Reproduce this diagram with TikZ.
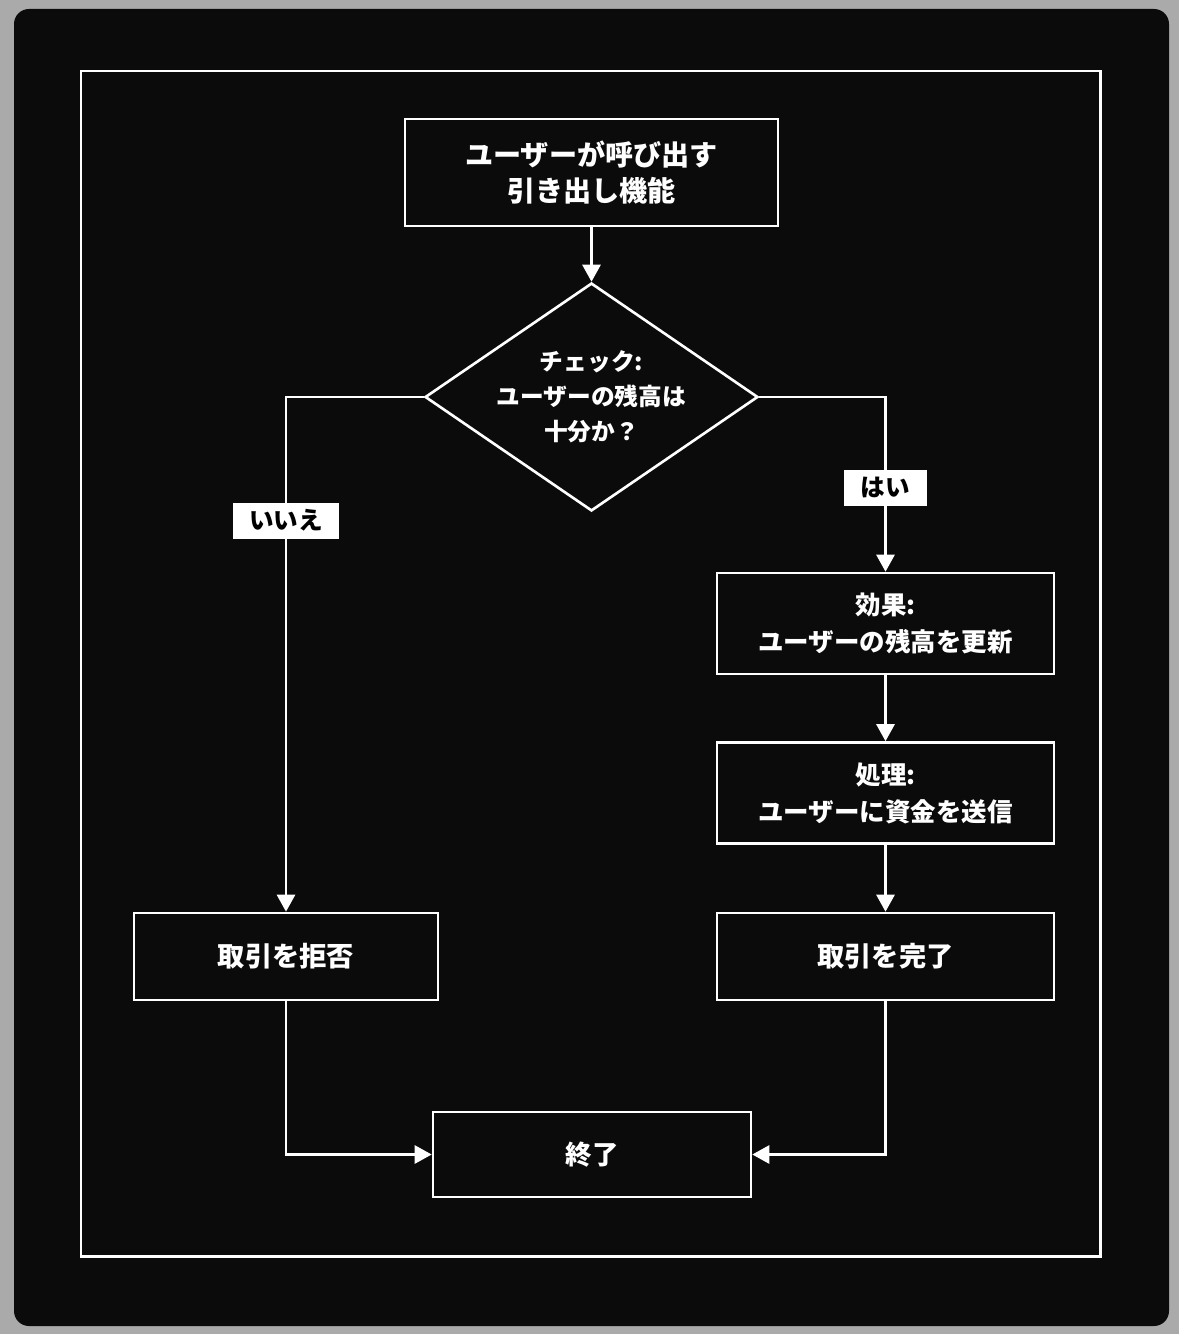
\documentclass[tikz,border=0pt]{standalone}
\usepackage{fontspec}
\setmainfont{Noto Sans CJK JP}
\definecolor{bgblack}{RGB}{11,11,11}
\definecolor{bggray}{RGB}{170,170,170}
\usetikzlibrary{arrows.meta,positioning,shapes.geometric,calc}

\begin{document}
\begin{tikzpicture}[
  x=0.02cm, y=-0.02cm,
  every node/.style={text=white},
  procbox/.style={draw=white,line width=1.5pt,minimum width=6.74cm,
                  minimum height=2.02cm,align=center,
                  font=\bfseries\fontsize{14.5}{21}\selectfont},
  decision/.style={diamond,draw=white,line width=1.5pt,aspect=1.46,
                   inner sep=0pt,minimum width=6.66cm,minimum height=4.56cm,
                   align=center,font=\bfseries\fontsize{13.5}{20}\selectfont},
  answer/.style={fill=white,text=black,minimum height=0.72cm,inner xsep=0.33cm,
                 font=\bfseries\fontsize{14}{16}\selectfont},
  arr/.style={-{Triangle[width=0.36cm,length=0.34cm]},line width=1.6pt,white},
]
  % Background and frame
  \useasboundingbox[fill=bggray] (0,0) rectangle (1179,1334);
  \fill[bgblack,rounded corners=0.3cm] (14,9) rectangle (1169,1326);
  \draw[white,line width=1.7pt] (81,71) rectangle (1100,1256);

  % Steps
  \node[procbox,minimum width=7.46cm,minimum height=2.14cm,
        font=\bfseries\fontsize{16}{20}\selectfont] (start) at (591.5,172.5)
    {ユーザーが呼び出す\\引き出し機能};
  \node[decision] (check) at (591.5,397)
    {チェック:\\ユーザーの残高は\\十分か？};
  \node[procbox] (update) at (885.5,623.5)
    {効果:\\ユーザーの残高を更新};
  \node[procbox] (send) at (885.5,793)
    {処理:\\ユーザーに資金を送信};
  \node[procbox,minimum height=1.74cm,
        font=\bfseries\fontsize{15.5}{20}\selectfont] (done) at (885.5,956.5)
    {取引を完了};
  \node[procbox,minimum width=6.08cm,minimum height=1.74cm,
        font=\bfseries\fontsize{15.5}{20}\selectfont] (reject) at (286,956.5)
    {取引を拒否};
  \node[procbox,minimum width=6.36cm,minimum height=1.7cm,
        font=\bfseries\fontsize{15}{20}\selectfont] (finish) at (592,1154.5)
    {終了};

  % Arrows
  \draw[arr] (start) -- (check);
  \draw[arr] (check.west) -| node[answer,pos=0.62] (no) {いいえ} (reject.north);
  \draw[arr] (check.east) -| node[answer,pos=0.76] (yes) {はい} (update.north);
  \draw[arr] (update) -- (send);
  \draw[arr] (send) -- (done);
  \draw[arr] (reject.south) |- (finish.west);
  \draw[arr] (done.south) |- (finish.east);
\end{tikzpicture}
\end{document}
